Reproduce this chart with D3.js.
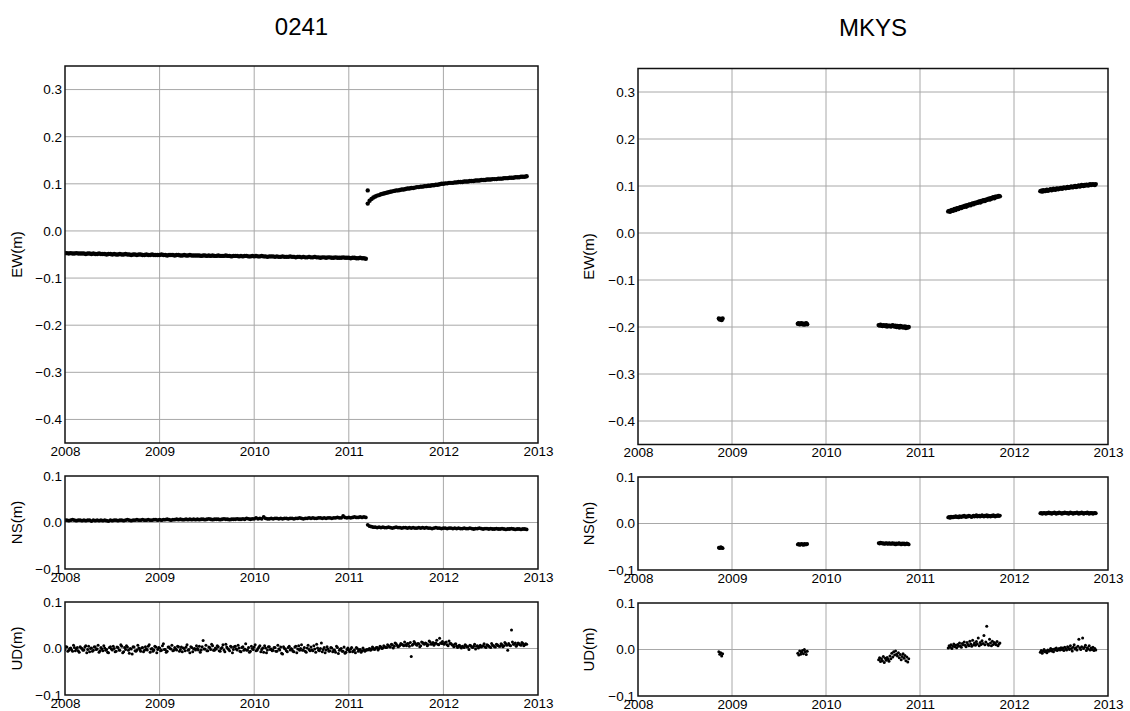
<!DOCTYPE html>
<html><head><meta charset="utf-8">
<script src="https://cdn.jsdelivr.net/npm/d3@7"></script>
<style>
body{margin:0;background:#fff}
svg{display:block}
text{font-family:"Liberation Sans",Arial,Helvetica,sans-serif;fill:#000}
</style>
</head><body>
<svg id="chart" width="1130" height="711"></svg>
<script>
// ---------------- DATA (values in millimetres) ----------------
const stationNames = ["0241", "MKYS"];
const components = ["EW", "NS", "UD"];
const yearTicks = [2008, 2009, 2010, 2011, 2012, 2013];
const ewTickValues = [300, 200, 100, 0, -100, -200, -300, -400];
const ewTickLabels = ["0.3", "0.2", "0.1", "0.0", "\u22120.1", "\u22120.2", "\u22120.3", "\u22120.4"];
const smallTickValues = [100, 0, -100];
const smallTickLabels = ["0.1", "0.0", "\u22120.1"];

// sampling epochs (decimal years): segment start + sample step
const step0241 = 0.02;
const segStarts0241 = [2008.00, 2011.20];
const segStarts0241B = [2008.01, 2011.21];   // intermediate epochs (UD)
const stepMKYS = 0.01;
const segStartsMKYS = [2008.86, 2009.70, 2010.56, 2011.30, 2012.28];

// station 0241
const ew0241Pre = [
-47,-47,-48,-47,-48,-48,-47,-48,-48,-48,
-48,-49,-48,-48,-49,-48,-49,-49,-48,-49,
-49,-49,-50,-49,-49,-50,-49,-50,-50,-49,
-50,-50,-49,-50,-50,-51,-50,-50,-51,-50,
-50,-51,-51,-50,-51,-51,-50,-51,-51,-51,
-51,-50,-51,-51,-52,-51,-51,-51,-52,-51,
-51,-52,-52,-51,-52,-52,-51,-52,-52,-52,
-52,-52,-53,-52,-52,-53,-52,-53,-52,-53,
-53,-52,-53,-53,-53,-52,-53,-53,-54,-53,
-53,-53,-54,-53,-54,-53,-53,-54,-54,-53,
-54,-53,-54,-54,-53,-54,-54,-55,-54,-54,
-54,-55,-54,-55,-55,-54,-55,-55,-55,-54,
-55,-55,-56,-55,-55,-56,-55,-56,-56,-55,
-56,-56,-55,-56,-56,-57,-56,-56,-57,-56,
-56,-57,-57,-56,-57,-57,-57,-56,-57,-57,
-57,-58,-57,-57,-58,-58,-57,-58,-58,-59];
const ew0241Post = [
58,64,68,71,73,75,76,78,79,80,
81,82,83,84,85,86,86,87,88,88,
89,90,90,91,91,92,93,93,94,94,
95,95,96,96,97,97,98,98,99,100,
100,101,101,102,102,102,103,103,104,104,
104,105,105,105,106,106,106,107,107,107,
108,108,108,109,109,109,110,110,110,111,
111,111,112,112,112,113,113,113,114,114,
114,115,115,115,116];
const ew0241Extra = [[2011.20, 86]];

const ns0241Pre = [
5,5,4,5,6,5,4,5,5,4,
5,4,5,5,3,5,4,5,4,5,
4,5,4,3,5,4,5,5,4,5,
5,4,5,6,5,4,5,5,6,5,
5,6,5,5,6,5,5,6,6,5,
6,5,6,6,7,6,5,6,6,7,
6,7,6,6,7,6,7,6,7,6,
7,6,7,7,6,7,8,7,6,7,
7,7,6,7,8,7,7,6,7,7,
7,8,7,7,8,7,9,8,7,8,
8,10,8,9,8,12,9,8,8,9,
8,9,9,8,9,8,9,9,8,9,
9,8,9,9,10,9,8,9,9,10,
9,10,9,9,10,10,9,10,9,10,
10,9,10,10,11,10,10,14,11,10,
11,10,11,12,11,11,12,11,12,11];
const ns0241Post = [
-5,-8,-9,-10,-10,-11,-10,-11,-10,-11,
-11,-10,-11,-12,-11,-10,-11,-11,-12,-11,
-11,-12,-11,-12,-11,-12,-12,-11,-12,-11,
-12,-11,-12,-12,-13,-12,-11,-12,-12,-13,
-12,-12,-13,-12,-12,-13,-12,-13,-12,-13,
-13,-12,-13,-13,-12,-13,-14,-13,-13,-12,
-13,-14,-13,-13,-14,-13,-14,-14,-13,-14,
-14,-13,-14,-15,-14,-14,-13,-14,-15,-14,
-14,-15,-14,-14,-15];

const ud0241Pre = [
-2,3,-4,1,-6,2,-1,-5,4,0,
-3,6,-2,-7,1,-4,3,-1,-8,2,
-5,1,-2,-9,4,-3,0,-6,2,-4,
5,-7,-2,3,-10,-1,4,-5,-3,1,
-6,2,-4,-1,5,-8,0,-3,3,-2,
1,-4,10,-2,-6,3,-1,-5,2,-3,
4,-2,-7,0,3,-4,-9,2,-1,-3,
0,5,-3,17,-1,-5,3,-2,6,-4,
-1,4,-6,2,-3,9,0,-5,3,-2,
5,-3,1,-7,4,-1,-4,2,-6,0,
3,-5,0,6,-2,-8,1,-3,4,-1,
-4,2,-6,-1,3,-12,0,-5,2,-3,
-2,-7,5,-1,-4,8,-3,-6,1,-2,
3,-5,-1,9,-4,0,-7,2,-3,-1,
-5,1,-3,-8,2,-4,0,-6,-10,-2,
-4,-1,-7,-3,2,-6,-2,-5,-3,-4];
const ud0241PreB = [
4,-6,0,-3,7,-5,2,-8,1,-4,
3,-9,5,0,-6,4,-2,7,-5,-1,
6,-4,-8,2,-1,5,-7,3,-3,8,
-9,2,6,-4,0,-12,3,-6,7,-2,
1,-7,4,-3,8,-1,-6,5,-9,2,
-5,6,-2,-8,3,0,7,-4,-1,5,
-6,3,1,-5,8,-2,4,-7,0,6,
-3,-8,4,-1,7,-5,2,9,-4,1,
6,-5,0,8,-7,3,-2,5,-9,4,
-1,7,-6,2,-4,10,-3,-8,5,-2,
8,-4,3,-7,1,6,-9,4,-2,-5,
2,-6,7,-3,-10,4,-1,-7,5,0,
-6,3,-9,6,0,-4,2,-8,7,-5,
-3,6,-8,1,-5,12,-2,-9,4,-6,
2,-7,-4,5,-11,-1,-6,3,-8,1,
-7,2,-5,-9,0,-3,-8,1,-6,-2];
const ud0241Post = [
-3,0,-2,1,-1,2,0,3,1,4,
2,6,3,8,5,10,4,7,9,6,
8,11,5,-17,9,12,7,10,6,13,
9,11,8,14,10,7,12,9,22,11,
10,13,8,16,11,7,9,5,6,3,
5,2,6,4,7,3,5,-1,6,4,
3,6,4,8,5,2,7,4,9,6,
5,8,6,10,-4,7,40,9,12,8,
10,7,11,8,9];
const ud0241PostB = [
-1,-4,3,-2,2,-3,5,0,6,2,
8,4,9,1,12,7,5,11,8,14,
6,10,13,7,15,9,11,4,14,10,
12,6,16,9,13,11,18,8,12,15,
9,14,6,11,8,4,10,2,7,1,
4,8,3,-2,6,2,9,5,1,7,
5,10,2,7,4,11,6,3,8,5,
10,4,13,7,11,6,14,9,5,12,
8,13,6,10];

// station MKYS (five occupation segments)
const ewMKYS = [
[-182,-184,-183,-185,-182],
[-193,-192,-194,-193,-192,-194,-193,-195,-193,-192,-194],
[-196,-197,-195,-197,-198,-196,-197,-198,-196,-199,-197,-198,-197,-199,-198,-196,-198,-199,-197,-200,-198,-199,-201,-198,-200,-199,-201,-200,-199,-202,-200,-201,-200],
[46,47,45,48,49,47,50,51,49,52,53,51,54,55,53,56,55,57,58,56,59,58,60,61,59,62,63,61,64,63,65,64,66,67,65,68,67,69,70,68,71,70,72,73,71,74,73,75,76,74,77,76,78,77,79,78],
[89,90,88,91,90,89,91,92,90,91,92,93,91,92,94,93,92,94,95,93,94,95,96,94,95,97,96,95,97,98,96,97,98,99,97,98,99,100,98,99,100,101,99,100,102,101,100,102,101,103,102,101,103,104,102,103,104,103,102,104]];
const nsMKYS = [
[-52,-53,-51,-52,-53],
[-45,-44,-46,-45,-44,-45,-46,-44,-45,-45,-44],
[-42,-43,-41,-42,-43,-42,-44,-43,-42,-43,-44,-42,-43,-44,-43,-42,-44,-43,-45,-43,-44,-43,-42,-44,-45,-43,-44,-43,-45,-44,-43,-44,-45],
[13,14,12,15,14,13,15,14,16,14,15,13,16,15,14,16,15,17,15,14,16,15,17,16,15,14,16,17,15,16,18,15,16,17,15,16,18,16,15,17,16,18,15,17,16,15,17,16,18,16,15,17,16,18,16,17],
[22,23,21,22,23,22,21,23,22,24,22,23,21,22,23,24,22,21,23,22,24,23,22,21,23,22,24,23,22,23,21,22,24,23,22,21,23,22,23,24,22,21,23,22,24,23,21,22,23,22,24,22,21,23,22,23,21,22,23,22]];
const udMKYS = [
[-5,-10,-7,-14,-9],
[-8,-12,-3,-10,-6,-2,-9,0,-5,-11,-4],
[-22,-18,-26,-20,-24,-15,-28,-19,-23,-17,-21,-25,-14,-20,-8,-16,-5,-12,-3,-10,-14,-7,-18,-11,-22,-15,-9,-19,-13,-24,-16,-27,-20],
[3,8,5,10,2,7,12,6,9,4,11,7,14,8,5,13,10,16,9,6,15,11,8,18,12,7,20,10,14,9,17,12,25,8,15,11,19,13,30,10,16,50,12,9,22,14,8,18,11,15,13,10,17,8,12,14],
[-6,-2,-8,-4,0,-5,-3,-7,-1,-4,-2,2,-3,0,-5,1,-1,3,-2,0,2,-1,4,0,3,-2,5,1,-1,6,3,0,8,2,-3,5,10,1,4,-1,7,22,3,0,6,25,2,5,9,-2,4,1,8,-1,3,0,5,-2,2,-1]];

// ---------------- BUILD POINT TABLES ----------------
function toPoints(starts, step, segs) {
  const pts = [];
  segs.forEach((vals, s) => vals.forEach((v, i) => pts.push([starts[s] + i * step, v])));
  return pts;
}
const series = {
  "0241": {
    EW: toPoints(segStarts0241, step0241, [ew0241Pre, ew0241Post]).concat(ew0241Extra),
    NS: toPoints(segStarts0241, step0241, [ns0241Pre, ns0241Post]),
    UD: toPoints(segStarts0241, step0241, [ud0241Pre, ud0241Post])
          .concat(toPoints(segStarts0241B, step0241, [ud0241PreB, ud0241PostB]))
  },
  "MKYS": {
    EW: toPoints(segStartsMKYS, stepMKYS, ewMKYS),
    NS: toPoints(segStartsMKYS, stepMKYS, nsMKYS),
    UD: toPoints(segStartsMKYS, stepMKYS, udMKYS)
  }
};

// ---------------- LAYOUT ----------------
const columns = [
  {name: "0241", x0: 65, x1: 538, titleY: 35,
   rows: {EW: [66, 443], NS: [476, 569], UD: [602, 695]}, labelX: 17},
  {name: "MKYS", x0: 638, x1: 1108, titleY: 36,
   rows: {EW: [68.5, 444.5], NS: [477, 570], UD: [603, 696]}, labelX: 589}
];

const svg = d3.select("#chart");
const FS = 13.5;

columns.forEach((col, ci) => {
  svg.append("text")
    .attr("x", (col.x0 + col.x1) / 2).attr("y", col.titleY)
    .attr("text-anchor", "middle").style("font-size", "24px")
    .text(col.name);

  components.forEach(comp => {
    const [top, bottom] = col.rows[comp];
    const isEW = comp === "EW";
    const x = d3.scaleLinear().domain([2008, 2013]).range([col.x0, col.x1]);
    const y = d3.scaleLinear().domain(isEW ? [-450, 350] : [-100, 100]).range([bottom, top]);
    const tv = isEW ? ewTickValues : smallTickValues;
    const tl = isEW ? ewTickLabels : smallTickLabels;
    const g = svg.append("g");
    const clipId = "clip-" + ci + "-" + comp;
    g.append("clipPath").attr("id", clipId).append("rect")
      .attr("x", col.x0).attr("y", top).attr("width", col.x1 - col.x0).attr("height", bottom - top);

    // grid
    const grid = g.append("g");
    grid.selectAll("line.v").data(yearTicks.slice(1, -1)).join("line")
      .attr("x1", d => x(d)).attr("x2", d => x(d)).attr("y1", top).attr("y2", bottom)
      .attr("stroke", "#a8a8a8").attr("stroke-width", 1);
    grid.selectAll("line.h").data(tv.filter(v => y(v) > top + 1 && y(v) < bottom - 1)).join("line")
      .attr("x1", col.x0).attr("x2", col.x1).attr("y1", d => y(d)).attr("y2", d => y(d))
      .attr("stroke", "#a8a8a8").attr("stroke-width", 1);

    // y axis labels
    const ya = g.append("g").attr("transform", `translate(${col.x0},0)`)
      .call(d3.axisLeft(y).tickValues(tv).tickFormat((d, i) => tl[i]).tickSize(0).tickPadding(3));
    ya.select(".domain").remove();
    ya.selectAll("text").style("font-size", FS + "px").attr("fill", "#000").attr("font-family", null);

    // x axis labels
    const xa = g.append("g").attr("transform", `translate(0,${bottom})`)
      .call(d3.axisBottom(x).tickValues(yearTicks).tickFormat(d3.format("d")).tickSize(0).tickPadding(3));
    xa.select(".domain").remove();
    xa.selectAll("text").style("font-size", FS + "px").attr("fill", "#000").attr("font-family", null);

    // component label
    g.append("text")
      .attr("transform", `translate(${col.labelX + 5},${(top + bottom) / 2}) rotate(-90)`)
      .attr("text-anchor", "middle").style("font-size", "15px")
      .text(comp + "(m)");

    // data points
    const r = isEW ? 2.2 : (comp === "NS" ? 1.9 : 1.5);
    g.append("g").attr("clip-path", `url(#${clipId})`)
      .selectAll("circle").data(series[col.name][comp]).join("circle")
      .attr("cx", d => x(d[0])).attr("cy", d => y(d[1])).attr("r", r)
      .attr("fill", "#000");

    // frame
    g.append("rect").attr("x", col.x0).attr("y", top)
      .attr("width", col.x1 - col.x0).attr("height", bottom - top)
      .attr("fill", "none").attr("stroke", "#111").attr("stroke-width", 1.5);
  });
});
</script>
</body></html>
